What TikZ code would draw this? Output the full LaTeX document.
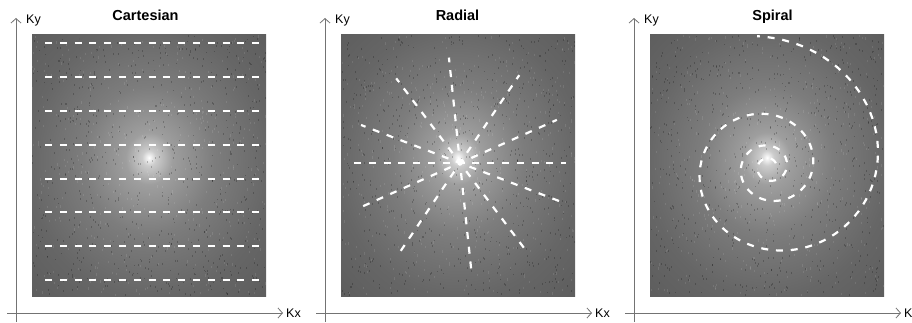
\documentclass[tikz,border=0pt]{standalone}
\usepackage{fontspec}
\setmainfont{Liberation Sans}
\usetikzlibrary{arrows.meta}

% k-space glow: bright centre, dark grey edges
\pgfdeclareradialshading{kspace}{\pgfpoint{0bp}{1.5bp}}{%
  color(0bp)=(white); color(1.5bp)=(black!20); color(5bp)=(black!38);
  color(14bp)=(black!51); color(26bp)=(black!60); color(40bp)=(black!65);
  color(50bp)=(black!67)}

\tikzset{
  axis/.style={black!55, line width=0.8pt, -{Straight Barb[length=4.5pt, width=10pt]}},
  traj/.style={white, line width=2.2pt, dash pattern=on 7pt off 7.8pt},
  title/.style={font=\fontsize{14.5}{17}\selectfont\bfseries, inner sep=0pt, anchor=base},
  klabel/.style={font=\fontsize{12.5}{15}\selectfont, inner sep=0pt, anchor=base west}
}

\begin{document}
\begin{tikzpicture}[x=1pt, y=-1pt]
  \useasboundingbox (0,0) rectangle (912,323);
  \pgfmathsetseed{17}

  % Three k-space panels with their axes
  \foreach \p in {0,1,2} {
    \begin{scope}[xshift={\p*309pt}]
      % k-space image
      \shade[shading=kspace] (32,35) rectangle (266,296);
      % Grainy texture
      \foreach \n in {1,...,700} {
        \pgfmathsetmacro\sx{32+233*rnd}
        \pgfmathsetmacro\sy{35+259*rnd}
        \fill[black, opacity=0.22] (\sx,\sy) rectangle ++(0.8,1.8);
      }
      \foreach \n in {1,...,400} {
        \pgfmathsetmacro\sx{32+233*rnd}
        \pgfmathsetmacro\sy{35+259*rnd}
        \fill[white, opacity=0.10] (\sx,\sy) rectangle ++(0.8,2.2);
      }
      % Ky axis
      \draw[axis] (16,322) -- (16,18);
      \node[klabel] (ky\p) at (26,24) {Ky};
      % Kx axis
      \draw[axis] (7,313) -- (283,313);
      \node[klabel] (kx\p) at (286,317) {Kx};
    \end{scope}
  }

  % Panel titles
  \node[title] (cart) at (145.5,21) {Cartesian};
  \node[title] (rad) at (457.5,21) {Radial};
  \node[title] (spir) at (772.5,21) {Spiral};

  % Cartesian trajectory: parallel lines
  \foreach \yy in {43,77,111,145,179,212,246,280}
    \draw[traj] (45,\yy) -- (260,\yy);

  % Radial trajectory: spokes through the centre
  \foreach \a in {0,24,56,96,127,159}
    \draw[traj] ([shift={(-\a:-106)}]460,163) -- ([shift={(-\a:106)}]460,163);

  % Spiral trajectory
  \draw[traj] plot[domain=-330:815, samples=300, variable=\t]
    ({769+17.8*exp(0.0025*\t)*cos(\t)}, {167-0.96*17.8*exp(0.0025*\t)*sin(\t)});

\end{tikzpicture}
\end{document}
